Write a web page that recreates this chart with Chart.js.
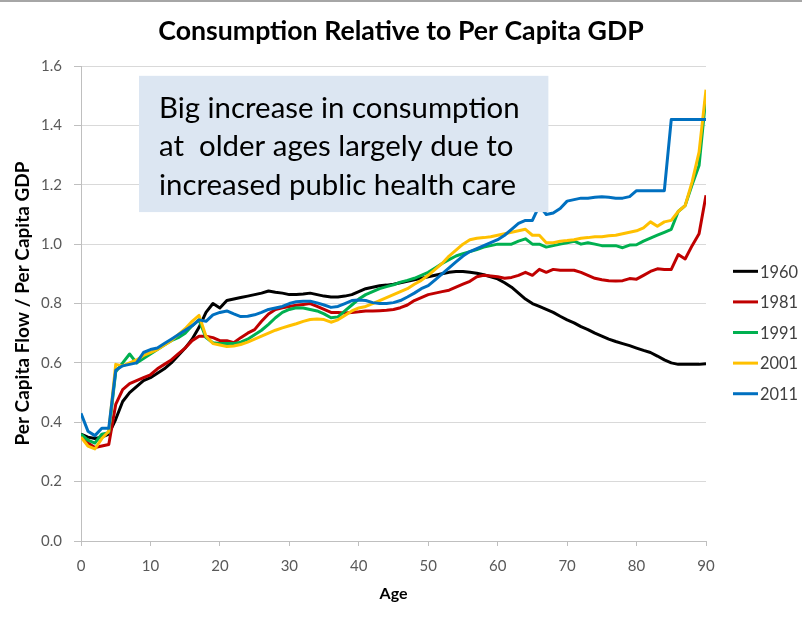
<!DOCTYPE html>
<html>
<head>
<meta charset="utf-8">
<script src="https://cdn.jsdelivr.net/npm/chart.js@4.4.1/dist/chart.umd.min.js"></script>
<style>
  html, body { margin: 0; padding: 0; background: #ffffff; }
  #wrap { width: 802px; height: 617px; position: relative; }
</style>
</head>
<body>
<div id="wrap"><canvas id="chart" width="802" height="617"></canvas></div>
<script>
// Age axis (years)
const ages = [
  0, 1, 2, 3, 4, 5, 6, 7, 8, 9, 10, 11, 12, 13, 14, 15, 16, 17, 18, 19,
  20, 21, 22, 23, 24, 25, 26, 27, 28, 29, 30, 31, 32, 33, 34, 35, 36, 37, 38, 39,
  40, 41, 42, 43, 44, 45, 46, 47, 48, 49, 50, 51, 52, 53, 54, 55, 56, 57, 58, 59,
  60, 61, 62, 63, 64, 65, 66, 67, 68, 69, 70, 71, 72, 73, 74, 75, 76, 77, 78, 79,
  80, 81, 82, 83, 84, 85, 86, 87, 88, 89, 90
];

// Per capita consumption relative to per capita GDP, by survey year
const c1960 = [
  0.36, 0.35, 0.345, 0.35, 0.36, 0.41, 0.47, 0.50, 0.52, 0.54,
  0.55, 0.565, 0.58, 0.60, 0.625, 0.65, 0.68, 0.72, 0.77, 0.80,
  0.785, 0.81, 0.815, 0.82, 0.825, 0.83, 0.835, 0.842, 0.838, 0.835,
  0.83, 0.83, 0.832, 0.835, 0.83, 0.825, 0.822, 0.822, 0.825, 0.83,
  0.84, 0.85, 0.855, 0.86, 0.862, 0.865, 0.87, 0.875, 0.88, 0.885,
  0.89, 0.895, 0.90, 0.905, 0.908, 0.908, 0.905, 0.902, 0.897, 0.89,
  0.883, 0.87, 0.855, 0.835, 0.815, 0.80, 0.79, 0.78, 0.77, 0.757,
  0.745, 0.735, 0.722, 0.712, 0.70, 0.69, 0.68, 0.672, 0.665, 0.658,
  0.65, 0.642, 0.635, 0.623, 0.61, 0.60, 0.595, 0.595, 0.595, 0.595,
  0.597
];
const c1981 = [
  0.35, 0.33, 0.315, 0.32, 0.325, 0.46, 0.51, 0.53, 0.54, 0.55,
  0.56, 0.58, 0.595, 0.61, 0.63, 0.65, 0.675, 0.69, 0.69, 0.685,
  0.675, 0.675, 0.668, 0.685, 0.70, 0.712, 0.74, 0.765, 0.78, 0.786,
  0.79, 0.794, 0.797, 0.80, 0.79, 0.78, 0.77, 0.77, 0.768, 0.77,
  0.772, 0.775, 0.775, 0.776, 0.777, 0.78, 0.786, 0.795, 0.81, 0.82,
  0.83, 0.835, 0.84, 0.845, 0.855, 0.865, 0.875, 0.89, 0.895, 0.893,
  0.89, 0.885, 0.888, 0.895, 0.905, 0.895, 0.915, 0.905, 0.915, 0.912,
  0.912, 0.912, 0.905, 0.895, 0.885, 0.88, 0.877, 0.876, 0.877, 0.884,
  0.882, 0.895, 0.908, 0.917, 0.915, 0.915, 0.965, 0.95, 0.995, 1.035,
  1.165
];
const c1991 = [
  0.36, 0.34, 0.33, 0.36, 0.365, 0.57, 0.60, 0.63, 0.60, 0.615,
  0.63, 0.645, 0.66, 0.675, 0.685, 0.70, 0.725, 0.745, 0.685, 0.668,
  0.665, 0.665, 0.665, 0.67, 0.68, 0.695, 0.71, 0.73, 0.752, 0.77,
  0.78, 0.786, 0.785, 0.78, 0.775, 0.765, 0.752, 0.755, 0.775, 0.795,
  0.815, 0.83, 0.84, 0.85, 0.857, 0.863, 0.872, 0.878, 0.885, 0.895,
  0.905, 0.92, 0.935, 0.948, 0.96, 0.968, 0.975, 0.982, 0.99, 0.995,
  1.00, 1.00, 1.00, 1.01, 1.018, 1.00, 1.00, 0.99, 0.995, 1.00,
  1.005, 1.01, 1.00, 1.005, 1.00, 0.995, 0.995, 0.995, 0.988, 0.997,
  0.998, 1.01, 1.02, 1.03, 1.04, 1.05, 1.11, 1.13, 1.20, 1.265,
  1.50
];
const c2001 = [
  0.35, 0.32, 0.31, 0.345, 0.37, 0.595, 0.59, 0.60, 0.61, 0.625,
  0.635, 0.645, 0.66, 0.675, 0.695, 0.715, 0.74, 0.76, 0.69, 0.665,
  0.66, 0.655, 0.657, 0.662, 0.67, 0.68, 0.69, 0.70, 0.71, 0.718,
  0.725, 0.732, 0.74, 0.746, 0.748, 0.746, 0.737, 0.745, 0.76, 0.775,
  0.785, 0.79, 0.80, 0.81, 0.82, 0.83, 0.84, 0.85, 0.865, 0.878,
  0.895, 0.915, 0.935, 0.96, 0.98, 1.00, 1.015, 1.02, 1.022, 1.025,
  1.03, 1.035, 1.04, 1.045, 1.05, 1.03, 1.03, 1.005, 1.005, 1.01,
  1.012, 1.015, 1.02, 1.022, 1.025, 1.025, 1.028, 1.03, 1.035, 1.04,
  1.045, 1.055, 1.075, 1.06, 1.075, 1.08, 1.11, 1.13, 1.21, 1.31,
  1.52
];
const c2011 = [
  0.43, 0.37, 0.355, 0.38, 0.38, 0.575, 0.59, 0.595, 0.60, 0.635,
  0.645, 0.65, 0.665, 0.68, 0.695, 0.71, 0.725, 0.745, 0.74, 0.762,
  0.77, 0.775, 0.765, 0.756, 0.757, 0.762, 0.77, 0.78, 0.785, 0.79,
  0.80, 0.806, 0.808, 0.808, 0.802, 0.795, 0.787, 0.79, 0.80, 0.81,
  0.812, 0.81, 0.803, 0.80, 0.80, 0.803, 0.81, 0.822, 0.835, 0.85,
  0.86, 0.88, 0.90, 0.92, 0.94, 0.96, 0.975, 0.985, 0.995, 1.005,
  1.015, 1.03, 1.05, 1.07, 1.08, 1.08, 1.13, 1.10, 1.105, 1.12,
  1.145, 1.15, 1.155, 1.155, 1.158, 1.16, 1.158, 1.155, 1.155, 1.16,
  1.18, 1.18, 1.18, 1.18, 1.18, 1.42, 1.42, 1.42, 1.42, 1.42,
  1.42
];

const seriesLabels = ['1960', '1981', '1991', '2001', '2011'];
const seriesValues = [c1960, c1981, c1991, c2001, c2011];
const seriesColors = ['#000000', '#c00000', '#00b050', '#ffc000', '#0070c0'];

const titleText = 'Consumption Relative to Per Capita GDP';
const yTitleText = 'Per Capita Flow / Per Capita GDP';
const xTitleText = 'Age';
const noteLines = [
  'Big increase in consumption',
  'at  older ages largely due to',
  'increased public health care'
];

const FONT = 'Lato, "Open Sans", sans-serif';

// Pick a font size that gives a text run the wanted width
const measureCtx = document.createElement('canvas').getContext('2d');
function sizeForWidth(text, weight, width) {
  measureCtx.font = weight + ' 20px ' + FONT;
  const w = measureCtx.measureText(text).width;
  return Math.round(20 * width / w * 10) / 10;
}
const titleSize = sizeForWidth(titleText, 'bold', 486);
const yTitleSize = sizeForWidth(yTitleText, 'bold', 284);
const xTitleSize = sizeForWidth(xTitleText, 'bold', 28);
const legendSize = sizeForWidth('1960', 'normal', 38);

// Callout box anchored in data units so it follows the scales
const noteBox = {
  id: 'noteBox',
  afterDatasetsDraw(chart) {
    const { ctx, scales: { x, y } } = chart;
    const left = x.getPixelForValue(8.35);
    const right = x.getPixelForValue(67.3);
    const top = y.getPixelForValue(1.567);
    const bottom = y.getPixelForValue(1.108);
    ctx.save();
    ctx.fillStyle = '#dce6f2';
    ctx.fillRect(left, top, right - left, bottom - top);
    ctx.fillStyle = '#000000';
    ctx.textBaseline = 'alphabetic';
    ctx.textAlign = 'left';
    const size = sizeForWidth(noteLines[0], 'normal', 361);
    ctx.font = size + 'px ' + FONT;
    const step = 38.5;
    noteLines.forEach((line, i) => {
      ctx.fillText(line, left + 20, top + 42 + i * step);
    });
    ctx.restore();
  }
};

// Thin frame line along the top edge of the figure
const topRule = {
  id: 'topRule',
  beforeDraw(chart) {
    const { ctx, width } = chart;
    ctx.save();
    ctx.fillStyle = '#a6a6a6';
    ctx.fillRect(0, 0, width, 2);
    ctx.restore();
  }
};

// Series key: a layout box on the right, one line sample per dataset
const seriesKey = {
  id: 'seriesKey',
  beforeInit(chart) {
    const box = {
      position: 'right',
      weight: 0,
      fullSize: false,
      options: {},
      width: 0, height: 0, left: 0, top: 0, right: 0, bottom: 0,
      isHorizontal() { return false; },
      update(maxWidth, maxHeight) {
        this.width = 96;
        this.height = maxHeight;
      },
      draw() {
        const { ctx, chartArea } = chart;
        const sets = chart.data.datasets;
        const step = 30.6;
        const x0 = this.left + 27;
        const midY = (chartArea.top + chartArea.bottom) / 2;
        const y0 = midY + 29 - step * (sets.length - 1) / 2;
        ctx.save();
        ctx.font = legendSize + 'px ' + FONT;
        ctx.textBaseline = 'middle';
        ctx.textAlign = 'left';
        sets.forEach((ds, i) => {
          const yy = y0 + i * step;
          ctx.strokeStyle = ds.borderColor;
          ctx.lineWidth = 3;
          ctx.beginPath();
          ctx.moveTo(x0, yy);
          ctx.lineTo(x0 + 25, yy);
          ctx.stroke();
          ctx.fillStyle = '#404040';
          ctx.fillText(ds.label, x0 + 27, yy + 1);
        });
        ctx.restore();
      }
    };
    Chart.layouts.addBox(chart, box);
  }
};

const datasets = seriesLabels.map((label, i) => ({
  label,
  data: seriesValues[i],
  borderColor: seriesColors[i],
  backgroundColor: seriesColors[i],
  borderWidth: 3,
  pointRadius: 0,
  pointHoverRadius: 0,
  tension: 0,
  borderJoinStyle: 'round',
  order: seriesLabels.length - i
}));

new Chart(document.getElementById('chart'), {
  type: 'line',
  data: { labels: ages, datasets },
  plugins: [topRule, noteBox, seriesKey],
  options: {
    responsive: false,
    animation: false,
    events: [],
    layout: { padding: { left: 0, right: 0, top: 0, bottom: 0 } },
    plugins: {
      tooltip: { enabled: false },
      legend: { display: false },
      title: {
        display: true,
        text: titleText,
        color: '#000000',
        font: { family: FONT, size: titleSize, weight: 'bold' },
        padding: { top: 15, bottom: 19 }
      }
    },
    scales: {
      x: {
        type: 'linear',
        min: 0,
        max: 90,
        afterFit: (s) => { s.height = 76; },
        ticks: { stepSize: 10, color: '#595959', font: { family: FONT, size: 15 }, padding: 11, maxRotation: 0 },
        grid: { drawOnChartArea: false, drawTicks: true, tickLength: 5, color: '#bfbfbf' },
        border: { color: '#bfbfbf', width: 1 },
        title: {
          display: true,
          text: xTitleText,
          color: '#000000',
          font: { family: FONT, size: xTitleSize, weight: 'bold' },
          padding: { top: 0, bottom: 14 }
        }
      },
      y: {
        min: 0,
        max: 1.6,
        afterFit: (s) => { s.width = 81; },
        ticks: {
          stepSize: 0.2,
          color: '#595959',
          font: { family: FONT, size: 15 },
          padding: 12,
          callback: (v) => Number(v).toFixed(1)
        },
        grid: { color: '#d9d9d9', tickLength: 7, tickColor: '#bfbfbf' },
        border: { color: '#bfbfbf', width: 1 },
        title: {
          display: true,
          text: yTitleText,
          color: '#000000',
          font: { family: FONT, size: yTitleSize, weight: 'bold' },
          padding: { top: 11, bottom: 4 }
        }
      }
    }
  }
});
</script>
</body>
</html>
